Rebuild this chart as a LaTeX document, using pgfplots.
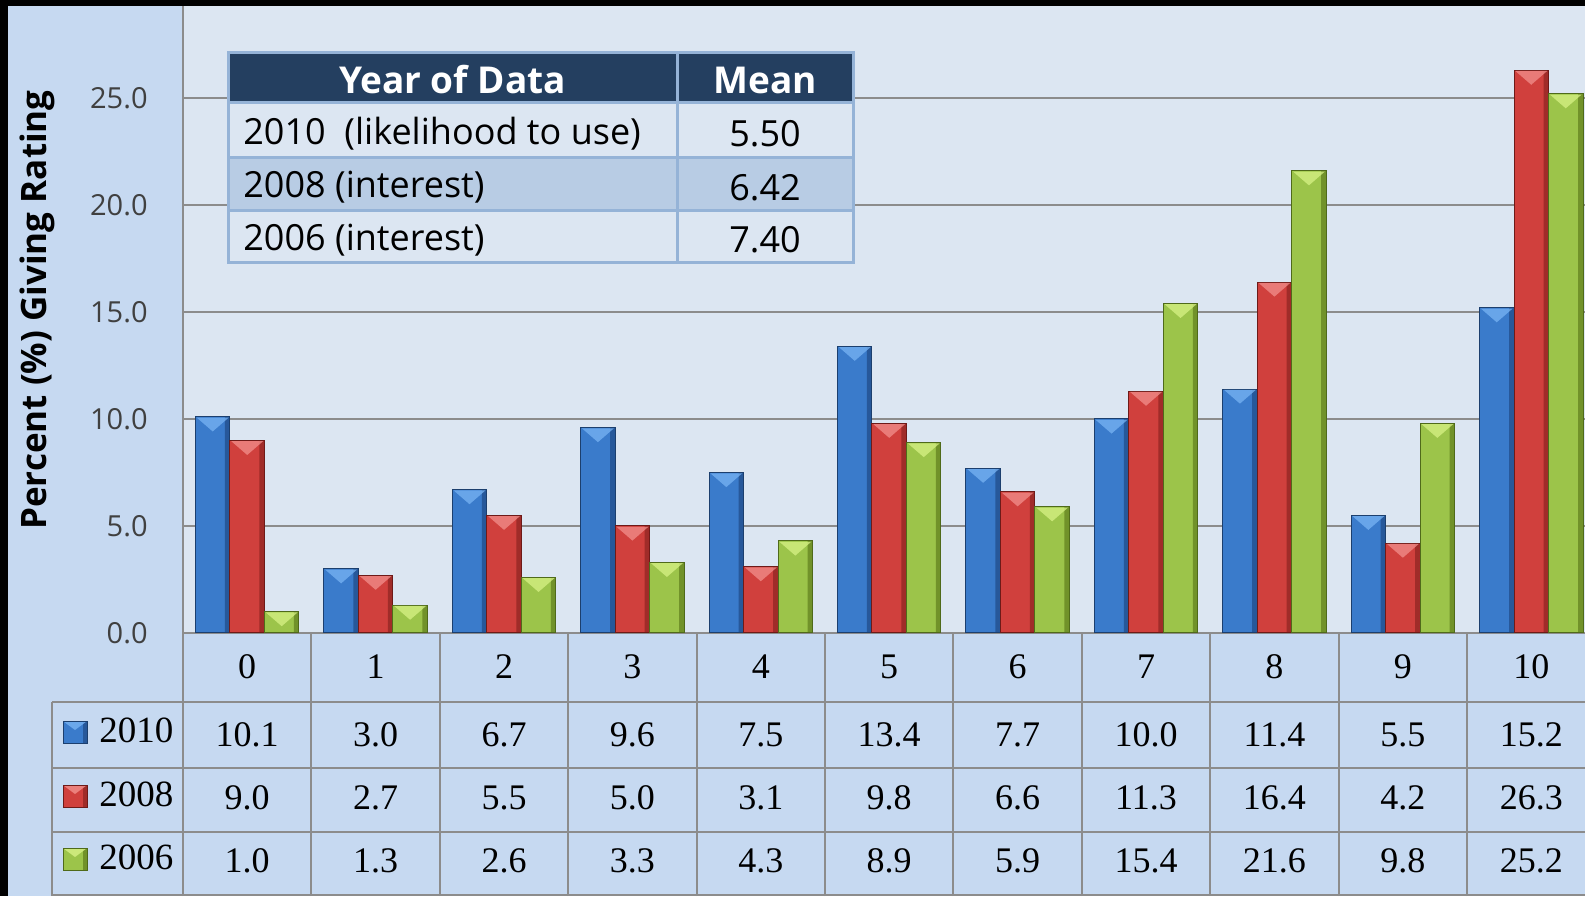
\documentclass[border=0pt]{standalone}
\usepackage{fontspec}
\setmainfont{Liberation Serif}
\newfontfamily\osans{Open Sans}
\usepackage{pgfplots}
\pgfplotsset{compat=1.18}
\usepackage{pgfplotstable}

\definecolor{chartbg}{HTML}{C6D9F1}
\definecolor{plotbg}{HTML}{DCE6F2}
\definecolor{gridc}{HTML}{8C8C8C}
\definecolor{navy}{HTML}{243F60}
\definecolor{rowtwo}{HTML}{B8CCE4}
\definecolor{tborder}{HTML}{95B3D7}
\definecolor{tickc}{HTML}{404040}
% bars
\definecolor{bM}{HTML}{3A7BCB}
\definecolor{bR}{HTML}{27589A}
\definecolor{bE}{HTML}{1C3F6E}
\definecolor{bH}{HTML}{78B4F4}
\definecolor{rM}{HTML}{D0403D}
\definecolor{rR}{HTML}{A02C29}
\definecolor{rE}{HTML}{6E1A18}
\definecolor{rH}{HTML}{F2908C}
\definecolor{gM}{HTML}{9CC44A}
\definecolor{gR}{HTML}{71922A}
\definecolor{gE}{HTML}{4F6A1A}
\definecolor{gH}{HTML}{D8F286}

\pgfplotstableread{
cat a b c
0 10.1 9.0 1.0
1 3.0 2.7 1.3
2 6.7 5.5 2.6
3 9.6 5.0 3.3
4 7.5 3.1 4.3
5 13.4 9.8 8.9
6 7.7 6.6 5.9
7 10.0 11.3 15.4
8 11.4 16.4 21.6
9 5.5 4.2 9.8
10 15.2 26.3 25.2
}\data

\newcommand{\tfont}{\fontsize{18bp}{20bp}\selectfont}

\pgfplotsset{
  barbody/.style n args={2}{ybar, bar width=17.25bp, bar shift=#1, draw=none, fill=#2},
  barstrip/.style n args={2}{ybar, bar width=2.5bp, bar shift=#1, draw=none, fill=#2},
  barline/.style n args={2}{ybar, bar width=17.25bp, bar shift=#1, fill=none, draw=#2, line width=0.5bp},
  bartop/.style n args={2}{only marks, mark=triangle*, mark size=9.2bp,
    mark options={xshift=#1, yshift=-2.7bp, yscale=0.5, rotate=180, fill=#2, draw=#2, fill opacity=0.75, draw opacity=0}},
  rowlabels/.style={draw=none, mark=none, point meta=explicit,
    nodes near coords={\pgfmathprintnumber[fixed,fixed zerofill,precision=1,assume math mode=true]{\pgfplotspointmeta}},
    every node near coord/.append style={anchor=center, inner sep=0pt, font=\tfont, text=black}},
}

\begin{document}
\begin{tikzpicture}[x=0.5bp,y=0.5bp]
\fill[black] (0,0) rectangle (1585,896);
\fill[chartbg] (8,0) rectangle (1585,890);
\fill[plotbg] (183,263) rectangle (1585,890);

\begin{axis}[
  at={(91.5bp,131.5bp)}, anchor=south west,
  scale only axis, width=701bp, height=313.5bp,
  xmin=-0.5, xmax=10.419, ymin=0, ymax=29.3,
  clip=false,
  axis line style={draw=none},
  major tick length=0pt,
  ytick={0,5,...,25},
  ymajorgrids,
  grid style={draw=gridc, line width=1bp},
  yticklabel style={anchor=east, inner sep=0pt, xshift=-17.5bp,
    font=\osans\fontsize{14.5bp}{16bp}\selectfont, text=tickc,
    /pgf/number format/.cd, fixed, fixed zerofill, precision=1, assume math mode=true},
  xtick={0,...,10},
  xticklabel style={anchor=center, inner sep=0pt, yshift=-17bp,
    font=\tfont, /pgf/number format/assume math mode=true},
]
% 2010
\addplot[barbody={-17.25bp}{bM}] table[x=cat,y=a]{\data};
\addplot[barstrip={-9.875bp}{bR}] table[x=cat,y=a]{\data};
\addplot[bartop={-17.25bp}{bH}] table[x=cat,y=a]{\data};
\addplot[barline={-17.25bp}{bE}] table[x=cat,y=a]{\data};
% 2008
\addplot[barbody={0bp}{rM}] table[x=cat,y=b]{\data};
\addplot[barstrip={7.375bp}{rR}] table[x=cat,y=b]{\data};
\addplot[bartop={0bp}{rH}] table[x=cat,y=b]{\data};
\addplot[barline={0bp}{rE}] table[x=cat,y=b]{\data};
% 2006
\addplot[barbody={17.25bp}{gM}] table[x=cat,y=c]{\data};
\addplot[barstrip={24.625bp}{gR}] table[x=cat,y=c]{\data};
\addplot[bartop={17.25bp}{gH}] table[x=cat,y=c]{\data};
\addplot[barline={17.25bp}{gE}] table[x=cat,y=c]{\data};

% data table rows
\addplot[rowlabels] table[x=cat, y expr=-4.743, meta=a]{\data};
\addplot[rowlabels] table[x=cat, y expr=-7.687, meta=b]{\data};
\addplot[rowlabels] table[x=cat, y expr=-10.654, meta=c]{\data};
\end{axis}

% axis line and table grid
\draw[gridc, line width=1bp] (183,0) -- (183,890);
\foreach \k in {1,...,10} \draw[gridc, line width=1bp] ({183+128.4*\k},0) -- ++(0,263);
\draw[gridc, line width=1bp] (52,0.5) -- (52,194);
\foreach \yy in {194,128,64,1} \draw[gridc, line width=1bp] (52,\yy) -- (1585,\yy);

% legend keys
\foreach \yb/\M/\R/\E/\H/\lab/\ty in {153/bM/bR/bE/bH/2010/166, 89/rM/rR/rE/rH/2008/101.5, 26/gM/gR/gE/gH/2006/38.5}{
  \fill[\M] (63,\yb) rectangle (87,\yb+22);
  \fill[\R] (83,\yb) rectangle (87,\yb+22);
  \fill[\H, opacity=0.8] (63.5,\yb+21.5) -- (86.5,\yb+21.5) -- (75,\yb+13) -- cycle;
  \draw[\E, line width=0.4bp] (63,\yb) rectangle (87,\yb+22);
  \node[anchor=west, inner sep=0pt, font=\fontsize{18.5bp}{20bp}\selectfont] at (99,\ty) {\lab};
}

% y label
\node[rotate=90, font=\osans\bfseries\fontsize{17.5bp}{19bp}\selectfont] at (37,586) {Percent (\%) Giving Rating};

% inset table
\fill[navy] (228,793) rectangle (853,843);
\fill[plotbg] (228,738) rectangle (853,793);
\fill[rowtwo] (228,685) rectangle (853,738);
\fill[plotbg] (228,633) rectangle (853,685);
\draw[tborder, line width=1.5bp] (228,633) rectangle (853,843);
\draw[tborder, line width=1.5bp] (228,793) -- (853,793) (228,738) -- (853,738) (228,685) -- (853,685) (677,633) -- (677,843);
\begin{scope}[every node/.style={font=\osans\fontsize{18bp}{20bp}\selectfont, inner sep=0pt}]
\node[text=white, font=\osans\bfseries\fontsize{18.5bp}{20bp}\selectfont] at (452.5,816) {Year of Data};
\node[text=white, font=\osans\bfseries\fontsize{18.5bp}{20bp}\selectfont] at (765,816) {Mean};
\node[anchor=west] at (243,762.5) {2010\ \ (likelihood to use)};
\node at (765,762.5) {5.50};
\node[anchor=west] at (243,708.5) {2008 (interest)};
\node at (765,708.5) {6.42};
\node[anchor=west] at (243,656) {2006 (interest)};
\node at (765,656) {7.40};
\end{scope}

\pgfresetboundingbox
\useasboundingbox (0,0) rectangle (1585,896);
\end{tikzpicture}
\end{document}
